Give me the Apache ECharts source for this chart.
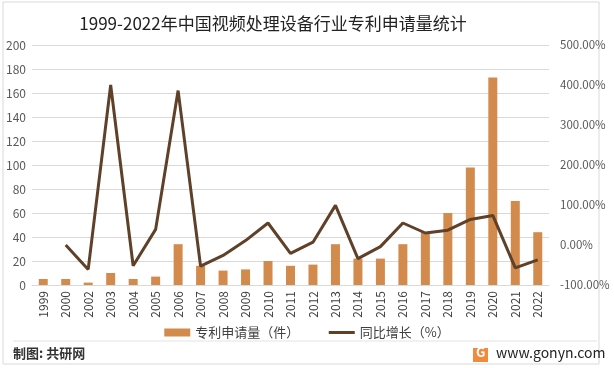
<!DOCTYPE html>
<html><head><meta charset="utf-8">
<script src="https://cdn.jsdelivr.net/npm/echarts@6/dist/echarts.min.js"></script>
<style>html,body{margin:0;padding:0;background:#fff}#c{width:614px;height:368px}</style>
</head><body><div id="c"></div>
<script>
const categories = ['1999','2000','2002','2003','2004','2005','2006','2007','2008','2009','2010','2011','2012','2013','2014','2015','2016','2017','2018','2019','2020','2021','2022'];
const patents = [5,5,2,10,5,7,34,16,12,13,20,16,17,34,22,22,34,44,60,98,173,70,44];
const growth = [null,0,-61,400,-52,39,386,-53,-26,11,55,-21,7,99,-34,-4,55,30,37,64,74,-57,-37];
const leftTicks = [0,200,20];
const rightTicks = [-100,500,100];

const chart = echarts.init(document.getElementById('c'));
const font = '"Noto Sans CJK SC", "Noto Sans", sans-serif';
chart.setOption({
  animation:false,
  textStyle:{fontFamily:font},
  title:{text:'1999-2022年中国视频处理设备行业专利申请量统计',left:268,top:10,textAlign:'center',
    textStyle:{fontSize:17,fontWeight:'normal',color:'#222',fontFamily:font}},
  grid:{left:32,right:65,top:45,bottom:83},
  legend:{bottom:24,left:'center',itemGap:28,itemWidth:26,itemHeight:8,
    textStyle:{fontSize:13,color:'#404040',fontFamily:font},
    data:[{name:'专利申请量（件）',icon:'rect'},{name:'同比增长（%）',itemStyle:{opacity:0},lineStyle:{width:3,color:'#5E4128'}}]},
  xAxis:{type:'category',data:categories,
    axisLine:{lineStyle:{color:'#d9d9d9'}},axisTick:{show:false},
    axisLabel:{rotate:90,fontSize:12,color:'#404040',interval:0,margin:6}},
  yAxis:[
    {type:'value',min:leftTicks[0],max:leftTicks[1],interval:leftTicks[2],
     axisLabel:{fontSize:12,color:'#595959',margin:6},
     splitLine:{lineStyle:{color:'#d9d9d9'}},axisLine:{show:false},axisTick:{show:false}},
    {type:'value',min:rightTicks[0],max:rightTicks[1],interval:rightTicks[2],
     axisLabel:{fontSize:11.5,color:'#595959',margin:11,formatter:v=>v.toFixed(2)+'%'},
     splitLine:{show:false},axisLine:{show:false},axisTick:{show:false}}
  ],
  series:[
    {name:'专利申请量（件）',type:'bar',data:patents,barWidth:9,itemStyle:{color:'#D38B4D'}},
    {name:'同比增长（%）',type:'line',yAxisIndex:1,data:growth,symbol:'none',
     lineStyle:{color:'#5E4128',width:3},itemStyle:{color:'#5E4128'},connectNulls:false}
  ],
  graphic:[
    {type:'rect',shape:{x:3,y:2,width:596,height:362},style:{fill:'none',stroke:'#d9d9d9',lineWidth:1},silent:true},
    {type:'line',shape:{x1:13,y1:341,x2:597,y2:341},style:{stroke:'#e3e3e3',lineWidth:1}},
    {type:'text',left:13,top:347,style:{text:'制图: 共研网',font:'bold 13px '+font,fill:'#333'}},
    {type:'rect',shape:{x:473,y:348,width:15,height:14},style:{fill:'#F08A3C'}},
    {type:'text',left:476,top:346,style:{text:'G',font:'bold 13px '+font,fill:'#fff'}},
    {type:'text',left:496,top:346,style:{text:'www.gonyn.com',font:'14px '+font,fill:'#222'}}
  ]
});
</script></body></html>
